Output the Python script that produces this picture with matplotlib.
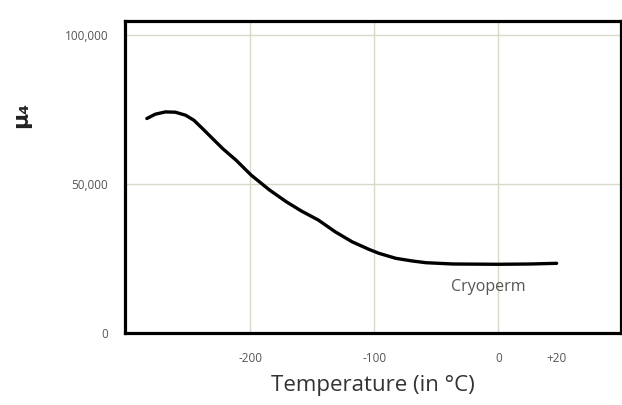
import numpy as np
import matplotlib
matplotlib.use("Agg")
import matplotlib.pyplot as plt

# data
temperature = [-283.4, -276.6, -268.5, -260.4, -252.2, -245.5, -238.6, -230.5, -222.4,
               -211.5, -199.3, -184.4, -170.9, -158.7, -145.1, -131.6, -118.0, -104.4,
               -96.3, -82.7, -69.2, -58.3, -36.6, 0, 11, 20]
permeability = [72050, 73500, 74270, 74170, 73160, 71480, 68700, 65340, 61990,
                58060, 53030, 47990, 44060, 40940, 37920, 34000, 30640, 28090,
                26750, 25070, 24160, 23590, 23160, 23060, 23160, 23390]
x_ticks = [-200, -100, 0, 20]
x_tick_labels = ["-200", "-100", "0", "+20"]
y_ticks = [0, 50000, 100000]
y_tick_labels = ["0", "50,000", "100,000"]
series_label = "Cryoperm"

# the original axis is stretched above 0 °C
STRETCH = 2.35
def fwd(x):
    x = np.asarray(x, dtype=float)
    return np.where(x <= 0, x, x * STRETCH)
def inv(x):
    x = np.asarray(x, dtype=float)
    return np.where(x <= 0, x, x / STRETCH)

FONT = ["Open Sans", "DejaVu Sans"]

fig = plt.figure(figsize=(6.22, 4.05), dpi=100)
ax = fig.add_axes([0.201, 0.178, 0.797, 0.770])
ax.set_xscale("function", functions=(fwd, inv))

ax.plot(temperature, permeability, color="black", lw=2.4, solid_capstyle="round",
        solid_joinstyle="round", zorder=3)

ax.set_xlim(-301, 42)
ax.set_ylim(0, 104800)

grid_c = "#d9d9c9"
for gx in [-200, -100, 0]:
    ax.axvline(gx, color=grid_c, lw=1.0, zorder=1)
for gy in [50000, 100000]:
    ax.axhline(gy, color=grid_c, lw=1.0, zorder=1)

ax.set_xticks(x_ticks)
ax.set_xticklabels(x_tick_labels, family=FONT)
ax.set_yticks(y_ticks)
ax.set_yticklabels(y_tick_labels, family=FONT)
ax.tick_params(axis="both", length=0, labelsize=8.5, labelcolor="#555555")
ax.tick_params(axis="x", pad=14)
ax.tick_params(axis="y", pad=12)
for lbl in ax.get_yticklabels():
    if lbl.get_text() == "0":
        lbl.set_y(-2500)

for s in ax.spines.values():
    s.set_linewidth(2.3)
    s.set_color("black")

ax.set_xlabel("Temperature (in °C)", fontsize=16, color="#333333", labelpad=7,
              family=FONT)
fig.text(0.034, 0.715, "μ₄", rotation=90, fontsize=16, fontweight="bold",
         color="#222222", ha="center", va="center", family=["DejaVu Sans"])

ax.text(-8, 15400, series_label, fontsize=11.5, color="#555555", ha="center",
        va="center", family=FONT)

fig.savefig("out.png", dpi=100)
